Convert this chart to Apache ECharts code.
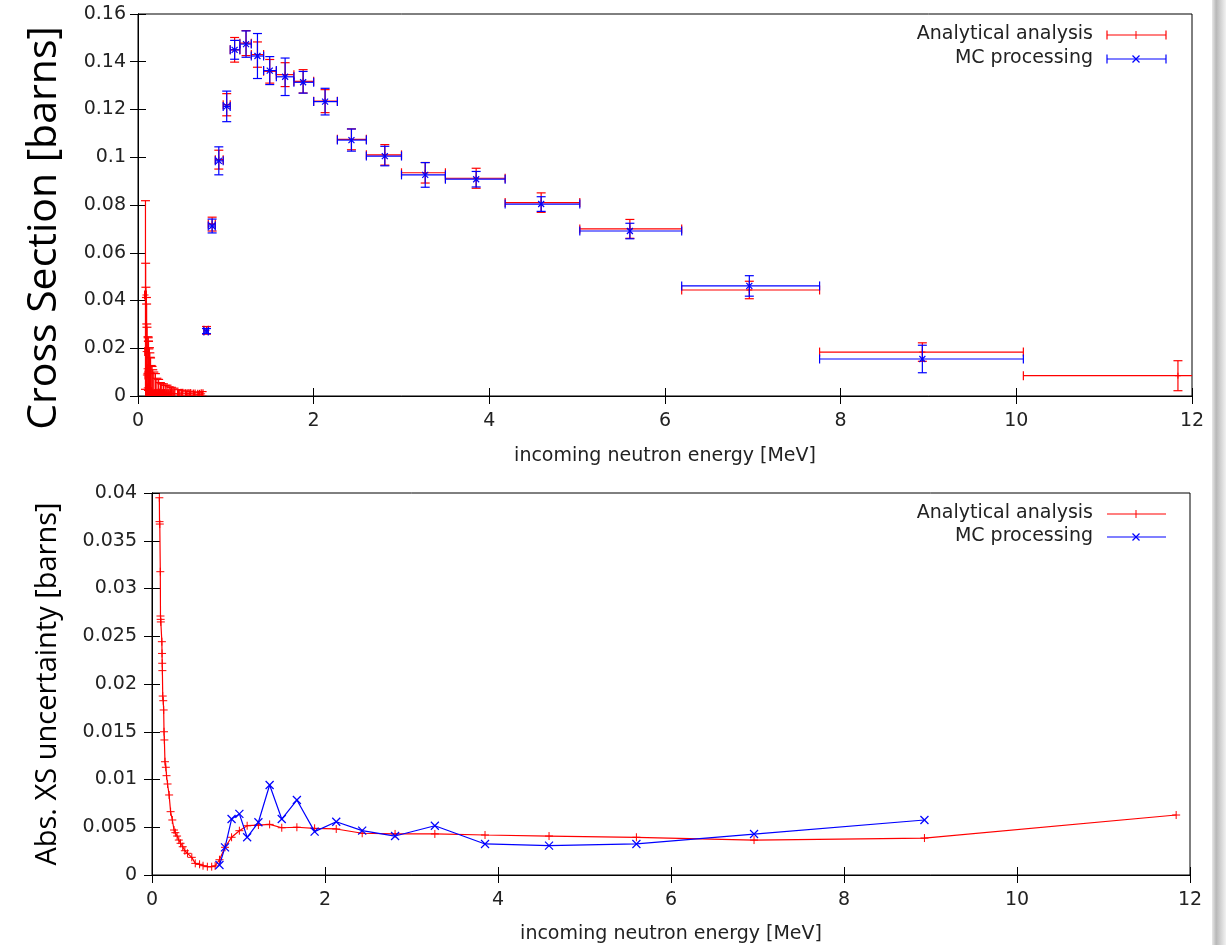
<!DOCTYPE html>
<html>
<head>
<meta charset="utf-8">
<script src="https://cdn.jsdelivr.net/npm/echarts@6/dist/echarts.min.js"></script>
<style>
html,body{margin:0;padding:0;background:#fff;}
#c{width:1226px;height:945px;}
</style>
</head>
<body>
<div id="c"></div>
<script>
// ---------------- DATA ----------------
// Analytical analysis: energy [MeV], cross section [b], abs. uncertainty [b], bin low / high edges [MeV]
const anaE = [0.085,0.087,0.09,0.096,0.098,0.1,0.102,0.114,0.116,0.118,0.12,0.124,0.13,0.135,0.139,0.143,0.15,0.16,0.168,0.18,0.198,0.215,0.235,0.255,0.27,0.29,0.31,0.33,0.355,0.38,0.41,0.46,0.50,0.55,0.59,0.64,0.69,0.73,
  0.78,0.844,0.92,1.01,1.10,1.23,1.36,1.50,1.675,1.88,2.13,2.43,2.81,3.27,3.85,4.59,5.60,6.96,8.93,11.84];
const anaXS = [0.0423,0.0186,0.0088,0.0095,0.0114,0.0034,0.0023,0.0004,0.0012,0.0008,0.0015,0.0010,0.0020,0.0008,0.0012,0.0018,0.0009,0.0011,0.0006,0.0005,0.0010,0.0008,0.0012,0.0009,0.0007,0.0010,0.0008,0.0012,0.0009,0.0011,0.0010,0.0008,0.0012,0.0009,0.0010,0.0008,0.0007,0.0009,
  0.0275,0.0720,0.0990,0.1220,0.1450,0.1478,0.1430,0.1360,0.1346,0.1318,0.1235,0.1075,0.1010,0.0935,0.0912,0.0810,0.0700,0.0444,0.0184,0.0085];
const anaErr = [0.0395,0.0370,0.03675,0.03176,0.02712,0.02677,0.0265,0.02443,0.0232,0.02217,0.0214,0.01874,0.01825,0.01728,0.0150,0.01414,0.01186,0.01128,0.0104,0.00953,0.00838,0.00663,0.00576,0.00471,0.00443,0.00408,0.00366,0.00332,0.00296,0.00254,0.00227,0.00185,0.00122,0.00112,0.00097,0.00087,0.00087,0.00095,
  0.0016,0.0029,0.00395,0.00464,0.00516,0.00523,0.0053,0.00495,0.0050,0.00489,0.00482,0.00437,0.0043,0.0043,0.00419,0.00408,0.00395,0.00366,0.00387,0.00628];
const anaLo = [0.075,0.077,0.08,0.086,0.088,0.09,0.092,0.104,0.106,0.108,0.11,0.114,0.12,0.125,0.129,0.133,0.14,0.15,0.158,0.17,0.188,0.205,0.225,0.245,0.26,0.28,0.30,0.32,0.345,0.37,0.40,0.45,0.49,0.54,0.58,0.63,0.68,0.72,
  0.75,0.80,0.88,0.97,1.05,1.16,1.29,1.43,1.575,1.775,2.0,2.27,2.6,3.0,3.5,4.18,5.03,6.19,7.76,10.08];
const anaHi = [0.095,0.097,0.10,0.106,0.108,0.11,0.112,0.124,0.126,0.128,0.13,0.134,0.14,0.145,0.149,0.153,0.16,0.17,0.178,0.19,0.208,0.225,0.245,0.265,0.28,0.30,0.32,0.34,0.365,0.39,0.42,0.47,0.51,0.56,0.60,0.65,0.70,0.74,
  0.80,0.88,0.97,1.05,1.16,1.29,1.43,1.575,1.775,2.0,2.27,2.6,3.0,3.5,4.18,5.03,6.19,7.76,10.08,13.6];

// MC processing
const mcE   = [0.78,0.844,0.92,1.01,1.10,1.23,1.36,1.50,1.675,1.88,2.13,2.43,2.81,3.27,3.85,4.59,5.60,6.96,8.93];
const mcXS  = [0.0272,0.0712,0.0985,0.1213,0.1450,0.1474,0.1424,0.1363,0.1337,0.1314,0.1233,0.1072,0.1005,0.0926,0.0908,0.0804,0.0691,0.0461,0.0155];
const mcErr = [0.00105,0.0029,0.00586,0.0064,0.00395,0.00552,0.00942,0.00586,0.00785,0.00454,0.00558,0.00464,0.00408,0.00516,0.00325,0.00307,0.00325,0.00429,0.00576];
const mcLo  = [0.75,0.80,0.88,0.97,1.05,1.16,1.29,1.43,1.575,1.775,2.0,2.27,2.6,3.0,3.5,4.18,5.03,6.19,7.76];
const mcHi  = [0.80,0.88,0.97,1.05,1.16,1.29,1.43,1.575,1.775,2.0,2.27,2.6,3.0,3.5,4.18,5.03,6.19,7.76,10.08];

const names = {ana:'Analytical analysis', mc:'MC processing'};
const titles = {x:'incoming neutron energy [MeV]', yTop:'Cross Section [barns]', yBottom:'Abs. XS uncertainty [barns]'};
// ---------------------------------------

const RED = '#ff0000', BLUE = '#0000ff';
const TICKFONT = 'DejaVu Sans';
const FS = 19;
const chart = echarts.init(document.getElementById('c'), null, {renderer:'canvas'});

function zip(a,b,c,d,e){ return a.map((v,i)=>[v,b[i],c[i],d?d[i]:0,e?e[i]:0]); }

function markerShapes(p, kind, color, s){
  if(kind==='plus'){
    return [
      {type:'line', shape:{x1:p[0]-s,y1:p[1],x2:p[0]+s,y2:p[1]}, style:{stroke:color,lineWidth:1}},
      {type:'line', shape:{x1:p[0],y1:p[1]-s,x2:p[0],y2:p[1]+s}, style:{stroke:color,lineWidth:1}}
    ];
  }
  return [
    {type:'line', shape:{x1:p[0]-s,y1:p[1]-s,x2:p[0]+s,y2:p[1]+s}, style:{stroke:color,lineWidth:1.2}},
    {type:'line', shape:{x1:p[0]-s,y1:p[1]+s,x2:p[0]+s,y2:p[1]-s}, style:{stroke:color,lineWidth:1.2}}
  ];
}

function errRender(color, kind){
  return function(params, api){
    const x=api.value(0), y=api.value(1), e=api.value(2), lo=api.value(3), hi=api.value(4);
    const p=api.coord([x,y]), pl=api.coord([lo,y]), ph=api.coord([hi,y]);
    const pt=api.coord([x,y+e]), pb=api.coord([x,y-e]);
    const c=4.5;
    const st={stroke:color,lineWidth:1.2};
    const ch=[
      {type:'line', shape:{x1:pl[0],y1:pl[1],x2:ph[0],y2:ph[1]}, style:st},
      {type:'line', shape:{x1:pt[0],y1:pt[1],x2:pb[0],y2:pb[1]}, style:st},
      {type:'line', shape:{x1:pl[0],y1:pl[1]-c,x2:pl[0],y2:pl[1]+c}, style:st},
      {type:'line', shape:{x1:ph[0],y1:ph[1]-c,x2:ph[0],y2:ph[1]+c}, style:st},
      {type:'line', shape:{x1:pt[0]-c,y1:pt[1],x2:pt[0]+c,y2:pt[1]}, style:st},
      {type:'line', shape:{x1:pb[0]-c,y1:pb[1],x2:pb[0]+c,y2:pb[1]}, style:st}
    ].concat(markerShapes(p, kind, color, 3));
    return {type:'group', children:ch};
  };
}
function markRender(color, kind){
  return function(params, api){
    const p=api.coord([api.value(0), api.value(1)]);
    return {type:'group', children:markerShapes(p, kind, color, 4)};
  };
}

const axLine = {show:true, lineStyle:{color:'#000', width:1}};
function xAx(grid, pos, show, name, gap){
  return {
    type:'value', gridIndex:grid, position:pos, min:0, max:12, interval:2,
    axisLine:axLine,
    axisTick:{show:true, inside:true, length:8, lineStyle:{color:'#000'}},
    axisLabel:{show:show, fontSize:FS, color:'#222', fontFamily:TICKFONT, margin:16},
    splitLine:{show:false},
    name: show?name:'', nameLocation:'middle', nameGap:gap,
    nameTextStyle:{fontSize:FS, color:'#222', fontFamily:TICKFONT}
  };
}
function yAx(grid, pos, show, max, interval, name, nameSize, gap, margin){
  return {
    type:'value', gridIndex:grid, position:pos, min:0, max:max, interval:interval,
    axisLine:axLine,
    axisTick:{show:true, inside:true, length:8, lineStyle:{color:'#000'}},
    axisLabel:{show:show, fontSize:FS, color:'#222', fontFamily:TICKFONT, margin:margin},
    splitLine:{show:false},
    name: show?name:'', nameLocation:'middle', nameGap:gap,
    nameTextStyle:{fontSize:nameSize, color:'#000', fontFamily:'Open Sans'}
  };
}

// legend drawn as graphics
function legendItem(y, label, color, kind, caps){
  const x1=1107, x2=1166, xm=1136;
  const els=[
    {type:'text', right:1226-1093, top:y-10, style:{text:label, font:FS+'px "DejaVu Sans"', fill:'#222'}},
    {type:'line', shape:{x1:x1,y1:y,x2:x2,y2:y}, style:{stroke:color,lineWidth:1.2}}
  ];
  if(caps){
    els.push({type:'line', shape:{x1:x1,y1:y-4.5,x2:x1,y2:y+4.5}, style:{stroke:color,lineWidth:1.2}});
    els.push({type:'line', shape:{x1:x2,y1:y-4.5,x2:x2,y2:y+4.5}, style:{stroke:color,lineWidth:1.2}});
  }
  if(kind==='plus'){
    els.push({type:'line', shape:{x1:xm,y1:y-4,x2:xm,y2:y+4}, style:{stroke:color,lineWidth:1}});
  } else {
    els.push({type:'line', shape:{x1:xm-3.5,y1:y-3.5,x2:xm+3.5,y2:y+3.5}, style:{stroke:color,lineWidth:1.2}});
    els.push({type:'line', shape:{x1:xm-3.5,y1:y+3.5,x2:xm+3.5,y2:y-3.5}, style:{stroke:color,lineWidth:1.2}});
  }
  return els;
}

const option = {
  animation:false,
  backgroundColor:'#fff',
  grid:[
    {left:138, top:14, width:1054, height:382, show:true, borderColor:'#000', borderWidth:1, backgroundColor:'transparent'},
    {left:152, top:493, width:1038, height:382, show:true, borderColor:'#000', borderWidth:1, backgroundColor:'transparent'}
  ],
  xAxis:[
    xAx(0,'bottom',true,titles.x,51),
    xAx(0,'top',false,'',0),
    xAx(1,'bottom',true,titles.x,50),
    xAx(1,'top',false,'',0)
  ],
  yAxis:[
    yAx(0,'left',true,0.16,0.02,'',40,76,12),
    yAx(0,'right',false,0.16,0.02,'',40,0,12),
    yAx(1,'left',true,0.04,0.005,titles.yBottom,29,90,15),
    yAx(1,'right',false,0.04,0.005,'',29,0,15)
  ],
  series:[
    {type:'custom', name:names.ana, xAxisIndex:0, yAxisIndex:0, clip:true,
     data:zip(anaE,anaXS,anaErr,anaLo,anaHi), encode:{x:0,y:1}, renderItem:errRender(RED,'plus'), z:2},
    {type:'custom', name:names.mc, xAxisIndex:0, yAxisIndex:0, clip:true,
     data:zip(mcE,mcXS,mcErr,mcLo,mcHi), encode:{x:0,y:1}, renderItem:errRender(BLUE,'cross'), z:3},
    {type:'line', name:names.ana, xAxisIndex:2, yAxisIndex:2, showSymbol:false, symbol:'none',
     data:anaE.map((v,i)=>[v,anaErr[i]]), lineStyle:{color:RED,width:1.2}, z:2},
    {type:'custom', xAxisIndex:2, yAxisIndex:2, clip:true,
     data:anaE.map((v,i)=>[v,anaErr[i]]), encode:{x:0,y:1}, renderItem:markRender(RED,'plus'), z:2},
    {type:'line', name:names.mc, xAxisIndex:2, yAxisIndex:2, showSymbol:false, symbol:'none',
     data:mcE.map((v,i)=>[v,mcErr[i]]), lineStyle:{color:BLUE,width:1.2}, z:3},
    {type:'custom', xAxisIndex:2, yAxisIndex:2, clip:true,
     data:mcE.map((v,i)=>[v,mcErr[i]]), encode:{x:0,y:1}, renderItem:markRender(BLUE,'cross'), z:3}
  ],
  graphic:[].concat(
    [{type:'text', x:44, y:228, rotation:Math.PI/2,
      style:{text:titles.yTop, font:'41px "Open Sans"', fill:'#000', align:'center', verticalAlign:'middle'}}],
    legendItem(35, names.ana, RED, 'plus', true),
    legendItem(59, names.mc, BLUE, 'cross', true),
    legendItem(514, names.ana, RED, 'plus', false),
    legendItem(537, names.mc, BLUE, 'cross', false),
    [{type:'rect', shape:{x:1212,y:0,width:14,height:945},
      style:{fill:new echarts.graphic.LinearGradient(0,0,1,0,[{offset:0,color:'#e8e8e8'},{offset:0.3,color:'#b8b8b8'},{offset:1,color:'#f2f2f2'}])}, z:-1}]
  )
};
chart.setOption(option);
</script>
</body>
</html>
